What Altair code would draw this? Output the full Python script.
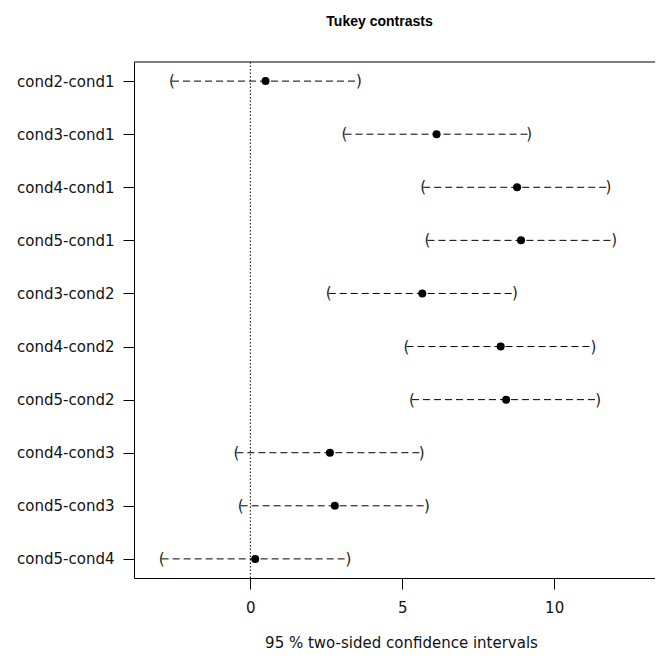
import altair as alt
import pandas as pd

contrasts = ["cond2-cond1", "cond3-cond1", "cond4-cond1", "cond5-cond1", "cond3-cond2",
             "cond4-cond2", "cond5-cond2", "cond4-cond3", "cond5-cond3", "cond5-cond4"]
estimate = [0.50, 6.13, 8.78, 8.91, 5.66, 8.24, 8.42, 2.62, 2.78, 0.16]
lower = [-2.58, 3.10, 5.69, 5.83, 2.58, 5.14, 5.32, -0.46, -0.32, -2.92]
upper = [3.57, 9.18, 11.79, 11.98, 8.71, 11.29, 11.45, 5.64, 5.81, 3.23]
x_ticks = [0, 5, 10]
x_domain = [-3.83, 13.32]
reference = [0]

df = pd.DataFrame({"contrast": contrasts, "estimate": estimate,
                   "lower": lower, "upper": upper})
ref_df = pd.DataFrame({"ref": reference})
frame_df = pd.DataFrame({"x0": [x_domain[0]], "x1": [x_domain[1]]})

FONT = "DejaVu Sans"
xscale = alt.Scale(domain=x_domain, nice=False, zero=False)
yscale = alt.Scale(type="point", padding=0.36)

y_axis = alt.Axis(labelFont=FONT, labelFontSize=15, labelColor="#111", tickSize=11,
                  labelPadding=9, domainColor="black", tickColor="black", grid=False,
                  title="", domainWidth=1, tickWidth=1)
x_axis = alt.Axis(values=x_ticks, labelFont=FONT, labelFontSize=15, labelColor="#111",
                  tickSize=11, labelPadding=11, domainColor="black", tickColor="black",
                  grid=False, title="95 % two-sided confidence intervals",
                  titleFont=FONT, titleFontSize=15, titleFontWeight="normal",
                  titleColor="#111", titlePadding=20, titleX=267, titleAlign="center",
                  domainWidth=1, tickWidth=1)


def X(field):
    return alt.X(field, scale=xscale, axis=x_axis)


Y = alt.Y("contrast:N", sort=contrasts, scale=yscale, axis=y_axis)

top_border = alt.Chart(frame_df).mark_rule(color="black", strokeWidth=1).encode(
    x=X("x0:Q"),
    x2="x1:Q",
    y=alt.value(0),
)

zero_line = alt.Chart(ref_df).mark_rule(color="black", strokeDash=[1.5, 2], strokeWidth=1).encode(
    x=X("ref:Q")
)

intervals = alt.Chart(df).mark_rule(color="black", strokeDash=[7, 4], strokeWidth=1).encode(
    x=X("lower:Q"),
    x2="upper:Q",
    y=Y,
)

left_br = alt.Chart(df).mark_text(text="(", font=FONT, fontSize=15, color="#222",
                                  baseline="middle", align="center").encode(
    x=X("lower:Q"),
    y=Y,
)
right_br = alt.Chart(df).mark_text(text=")", font=FONT, fontSize=15, color="#222",
                                   baseline="middle", align="center").encode(
    x=X("upper:Q"),
    y=Y,
)
points = alt.Chart(df).mark_circle(color="black", size=64, opacity=1).encode(
    x=X("estimate:Q"),
    y=Y,
)

chart = alt.layer(intervals, top_border, zero_line, left_br, right_br, points).properties(
    width=521,
    height=516,
    title=alt.Title("Tukey contrasts", font="Liberation Sans", fontSize=14,
                    fontWeight="bold", anchor="middle", baseline="alphabetic",
                    offset=22, dx=-15, color="black"),
    autosize=alt.AutoSizeParams(type="none"),
    padding={"left": 126, "top": 54, "right": 0, "bottom": 76},
    background="white",
).configure_view(strokeWidth=0)

chart.save("out.html", embed_options={"renderer": "svg", "actions": False})
